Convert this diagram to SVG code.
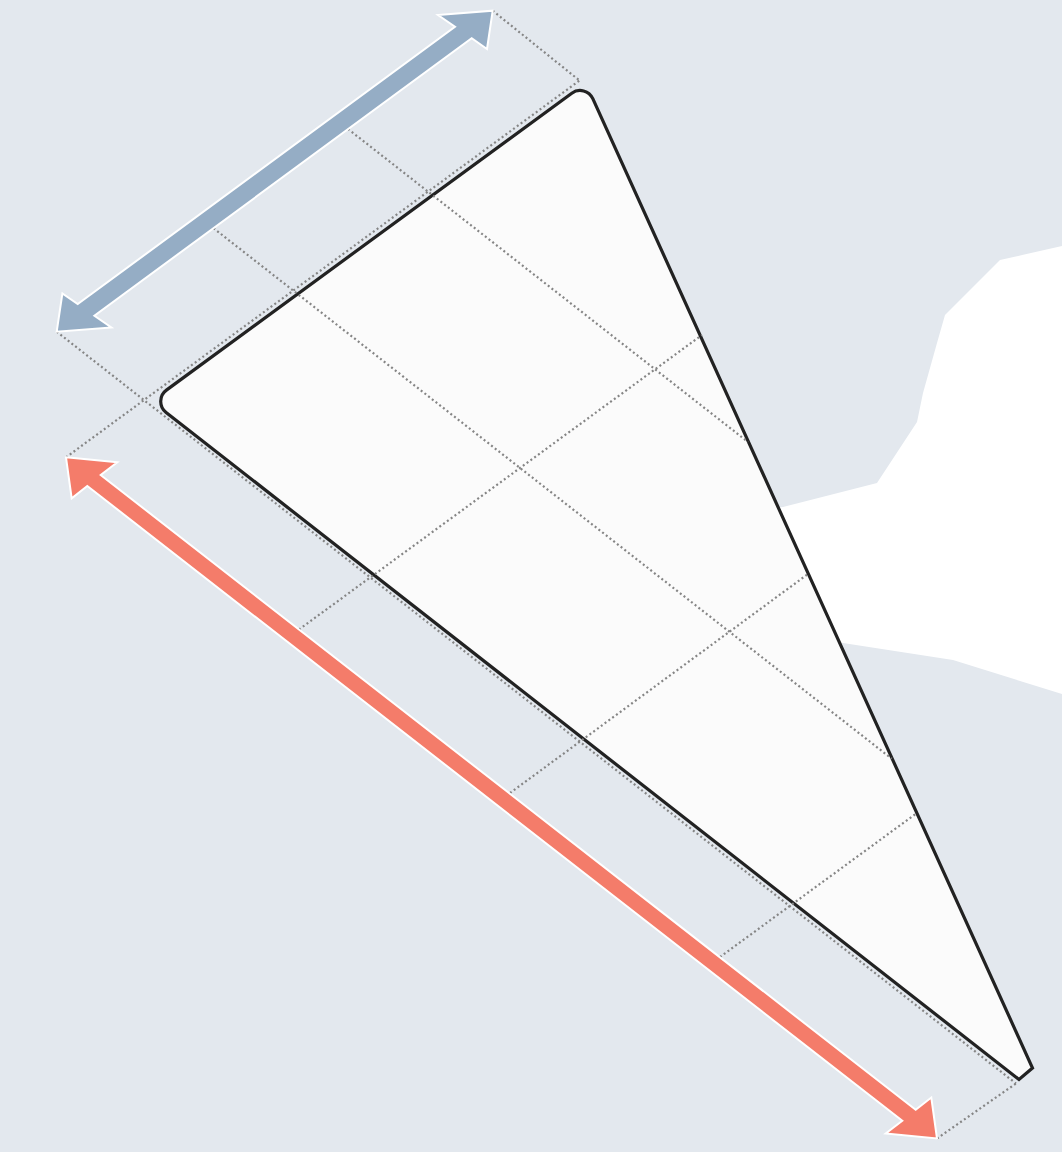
<svg xmlns="http://www.w3.org/2000/svg" width="1062" height="1152" viewBox="0 0 1062 1152">
  <style>
    .dot { fill: none; stroke: #858585; stroke-width: 2.2; stroke-dasharray: 2 2.7; }
    .arrow { stroke: #ffffff; stroke-width: 2; stroke-linejoin: miter; }
    .shape { fill: #fbfbfb; stroke: #222222; stroke-width: 3.2; stroke-linejoin: miter; }
  </style>
  <rect id="background" x="0" y="0" width="1062" height="1152" fill="#e3e8ee"/>
  <path id="blob" fill="#ffffff" d="M760,510 L783,507 L877,483 L917,422 L923,393 L937,343 L945,315 L1000,260 L1062,246 L1062,694 L953,660 L843,643 L820,640 Z"/>
  <g id="triangle">
    <path class="shape" d="M166.4,390.1 L571.8,93.2 A14,14 0 0 1 592.8,98.7 L1032.5,1068 L1019,1079.5 L166.1,412.4 A14,14 0 0 1 166.4,390.1 Z"/>
  </g>
  <g id="guides">
    <line class="dot" x1="66" y1="457.3" x2="579.5" y2="80.5"/>
    <line class="dot" x1="56.7" y1="331.7" x2="1016" y2="1083.5"/>
    <line class="dot" x1="492.7" y1="10.7" x2="579.5" y2="80.5"/>
    <line class="dot" x1="937" y1="1138.5" x2="1016" y2="1083.5"/>
    <line class="dot" x1="213.5" y1="228.2" x2="891.7" y2="758.7"/>
    <line class="dot" x1="348" y1="129" x2="748" y2="442"/>
    <line class="dot" x1="299" y1="629.5" x2="702" y2="335"/>
    <line class="dot" x1="510" y1="793" x2="808" y2="574"/>
    <line class="dot" x1="720" y1="957" x2="916.5" y2="813.3"/>
  </g>
  <g id="dimension-blue">
    <polygon class="arrow" fill="#95adc5" points="492.7,10.7 487,49 471.7,38.3 94.4,315.7 111.4,327.4 56.7,331.7 62.4,293.4 77.7,304.1 455,26.7 438,15"/>
  </g>
  <g id="dimension-red">
    <polygon class="arrow" fill="#f47c6a" points="66,457.3 117.3,462.3 100.7,475 915.7,1109.8 931.3,1097.5 937,1138.5 885.7,1133.5 902.3,1120.8 87.3,486 71.7,498.3"/>
  </g>
</svg>
